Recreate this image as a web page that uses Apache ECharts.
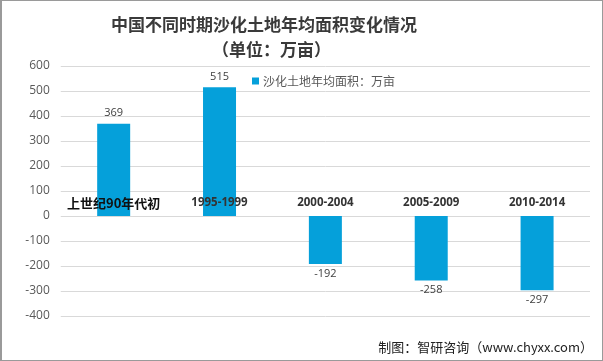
<!DOCTYPE html>
<html><head><meta charset="utf-8">
<script src="https://cdn.jsdelivr.net/npm/echarts@6/dist/echarts.min.js"></script>
<style>html,body{margin:0;padding:0;background:#fff}#c{width:603px;height:361px;box-sizing:border-box;border:1px solid #9a9a9a;border-left-width:2px}</style>
</head><body><div id="c"></div>
<script>
const categories = ['上世纪90年代初', '1995-1999', '2000-2004', '2005-2009', '2010-2014'];
const values = [369, 515, -192, -258, -297];
const seriesName = '沙化土地年均面积：万亩';
const titleLine1 = '中国不同时期沙化土地年均面积变化情况';
const titleLine2 = '（单位：万亩）';
const footer = '制图：智研咨询（www.chyxx.com）';
const yMin = -400, yMax = 600;

const gridTop = 65, gridBottom = 44, H = 361;
const plotH = H - gridTop - gridBottom;
const zeroOffset = -plotH * (0 - yMin) / (yMax - yMin);

const chart = echarts.init(document.getElementById('c'), null, {renderer: 'canvas'});
const cjk = '"Noto Sans CJK SC", sans-serif';
chart.setOption({
  animation: false,
  title: [
    {text: titleLine1, left: 104, top: 10, textStyle: {fontFamily: cjk, fontSize: 17, fontWeight: 'bold', color: '#3a3a3a'}},
    {text: titleLine2, left: 205, top: 35, textStyle: {fontFamily: cjk, fontSize: 17, fontWeight: 'bold', color: '#3a3a3a'}},
    {text: footer, right: 4, bottom: 1, textStyle: {fontFamily: cjk, fontSize: 13, fontWeight: 'normal', color: '#222'}}
  ],
  legend: {
    data: [seriesName], left: 244, top: 70, icon: 'rect', itemWidth: 7, itemHeight: 7, itemGap: 4,
    backgroundColor: '#fff', padding: [4, 6],
    textStyle: {fontFamily: cjk, fontSize: 12, color: '#595959', padding: [0, 0, 0, -1]}
  },
  grid: {left: 58.75, right: 12, top: gridTop, bottom: gridBottom, containLabel: false},
  xAxis: {
    type: 'category', z: 5, position: 'bottom', offset: zeroOffset,
    data: categories.map((c, i) => i === 0
      ? {value: c, textStyle: {fontSize: 13, fontWeight: 'bold', color: '#111', fontFamily: cjk}}
      : {value: c, textStyle: {fontSize: 11.5, fontWeight: 'bold', color: '#333', fontFamily: '"Open Sans", sans-serif'}}),
    axisLine: {show: false, onZero: false},
    axisTick: {show: false},
    axisLabel: {inside: true, margin: 6, interval: 0}
  },
  yAxis: {
    type: 'value', min: yMin, max: yMax, interval: 100,
    axisLine: {show: false}, axisTick: {show: false},
    axisLabel: {margin: 11, fontSize: 12, color: '#595959', fontFamily: '"Open Sans", sans-serif'},
    splitLine: {lineStyle: {color: '#d9d9d9', width: 1}}
  },
  series: [{
    name: seriesName, type: 'bar', barWidth: 33,
    itemStyle: {color: '#05A0DA'},
    label: {show: true, position: 'top', distance: 5, fontSize: 11, color: '#404040', fontFamily: '"Open Sans", sans-serif'},
    data: values.map(v => v < 0 ? {value: v, label: {position: 'bottom', distance: 4}} : {value: v})
  }]
});
</script></body></html>
